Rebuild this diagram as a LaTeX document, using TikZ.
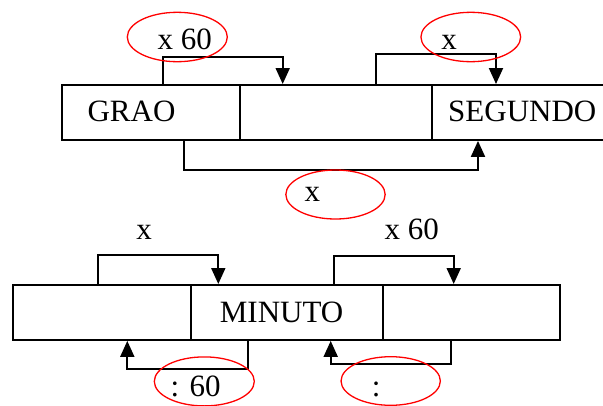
\documentclass[tikz,border=0pt]{standalone}
\usepackage{fontspec}
\setmainfont{Liberation Serif}
\usetikzlibrary{arrows.meta,shapes.geometric}
\begin{document}
\begin{tikzpicture}[x=1pt,y=-1pt,
  cell/.style={draw,line width=1.9pt,rectangle,inner sep=0pt,minimum height=55pt,anchor=north west},
  conn/.style={line width=1.9pt,-{Triangle[length=16pt,width=14pt]}},
  ring/.style={draw=red,line width=1.3pt,ellipse,inner sep=0pt},
  lab/.style={anchor=base west,inner sep=0pt,font=\fontsize{31}{36}\selectfont}]
\useasboundingbox (0,0) rectangle (603,405);
% top row
\node[cell,minimum width=178.3pt] (c1) at (61,84) {};
\node[cell,minimum width=191.4pt] (c2) at (239.3,84) {};
\node[cell,minimum width=190pt] (c3) at (430.7,84) {};
\node[lab] (tgrao) at (87.4,121.7) {GRAO};
\node[lab] (tseg) at (448,121.7) {SEGUNDO};
% bottom row
\node[cell,minimum width=178pt] (d1) at (12,284) {};
\node[cell,minimum width=191.7pt] (d2) at (190,284) {};
\node[cell,minimum width=177.6pt] (d3) at (381.7,284) {};
\node[lab] (tmin) at (219.7,322) {MINUTO};
% connectors top
\draw[conn] ([xshift=101.7pt]c1.north west) -- ++(0,-26.7) -| ([xshift=43.4pt]c2.north west);
\draw[conn] ([xshift=136.4pt]c2.north west) -- ++(0,-29.7) -| ([xshift=65.3pt]c3.north west);
\draw[conn] ([xshift=123.3pt]c1.south west) -- ++(0,28.7) -| ([xshift=47.3pt]c3.south west);
% connectors bottom
\draw[conn] ([xshift=85.7pt]d1.north west) -- ++(0,-29) -| ([xshift=28.3pt]d2.north west);
\draw[conn] ([xshift=143.7pt]d2.north west) -- ++(0,-28) -| ([xshift=72pt]d3.north west);
\draw[conn] ([xshift=57.7pt]d2.south west) -- ++(0,28.3) -| ([xshift=115.3pt]d1.south west);
\draw[conn] ([xshift=69.3pt]d3.south west) -- ++(0,22.7) -| ([xshift=140.7pt]d2.south west);
% labels
\node[lab] (l1) at (157.5,49.3) {x 60};
\node[lab] (l2) at (441.2,49.3) {x};
\node[lab] (l3) at (304.5,201.7) {x};
\node[lab] (l4) at (136.2,239) {x};
\node[lab] (l5) at (384.5,239) {x 60};
\node[lab] (l6) at (170.5,396.7) {: 60};
\node[lab] (l7) at (371.7,396.7) {:};
% red ellipses
\node[ring,minimum width=100pt,minimum height=49.4pt] (e1) at (177.3,37) {};
\node[ring,minimum width=99.7pt,minimum height=49.4pt] (e2) at (470.8,37) {};
\node[ring,minimum width=99.3pt,minimum height=49pt] (e3) at (335.5,194.5) {};
\node[ring,minimum width=100pt,minimum height=49pt] (e4) at (204.3,381.4) {};
\node[ring,minimum width=99.3pt,minimum height=48.6pt] (e5) at (390.7,381) {};
\end{tikzpicture}
\end{document}
